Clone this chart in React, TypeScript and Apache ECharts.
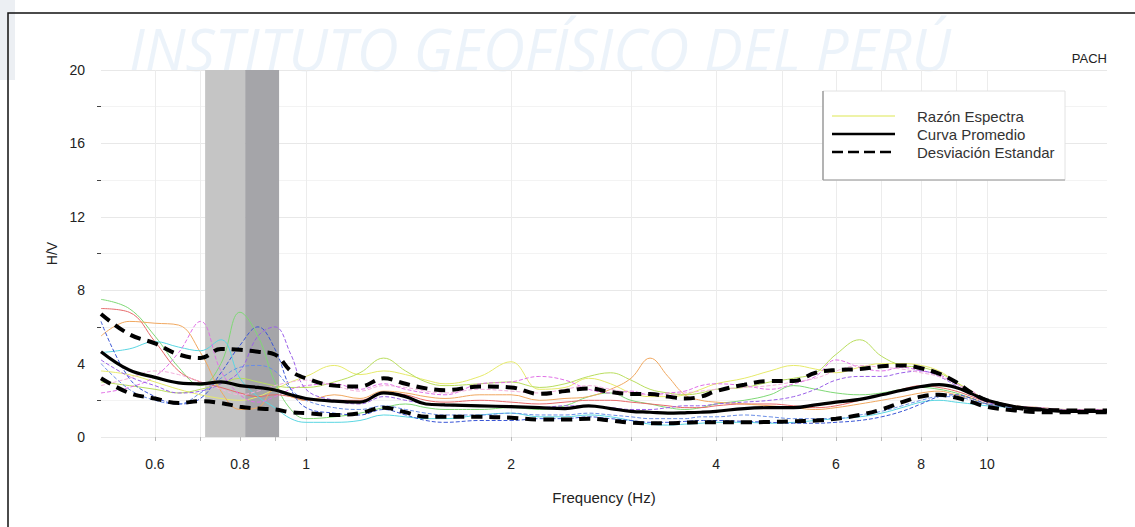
import React, { useEffect, useRef } from "react";
import * as echarts from "echarts";

const FREQ = [0.5, 0.55, 0.6, 0.65, 0.7, 0.75, 0.8, 0.85, 0.9, 0.95, 1.0, 1.1, 1.2, 1.3, 1.4, 1.5, 1.6, 1.8, 2.0, 2.2, 2.4, 2.6, 2.8, 3.0, 3.2, 3.4, 3.6, 3.8, 4.0, 4.4, 4.8, 5.2, 5.6, 6.0, 6.5, 7.0, 7.5, 8.0, 8.5, 9.0, 9.5, 10, 11, 12, 13, 14, 15];

const MEAN = [4.65, 3.65, 3.25, 2.95, 2.9, 3.0, 2.8, 2.7, 2.56, 2.3, 2.1, 1.95, 1.9, 2.4, 2.2, 1.8, 1.75, 1.7, 1.65, 1.6, 1.55, 1.7, 1.55, 1.4, 1.35, 1.3, 1.32, 1.35, 1.4, 1.55, 1.6, 1.6, 1.75, 1.9, 2.05, 2.3, 2.55, 2.75, 2.85, 2.7, 2.35, 2.0, 1.65, 1.5, 1.4, 1.4, 1.4];
const UPPER = [6.7, 5.6, 5.1, 4.5, 4.3, 4.8, 4.75, 4.65, 4.5, 3.6, 3.2, 2.8, 2.75, 3.2, 2.9, 2.65, 2.55, 2.75, 2.7, 2.35, 2.5, 2.65, 2.45, 2.35, 2.35, 2.2, 2.1, 2.2, 2.5, 2.85, 3.05, 3.05, 3.5, 3.65, 3.7, 3.85, 3.9, 3.75, 3.45, 3.0, 2.4, 2.0, 1.6, 1.5, 1.45, 1.45, 1.45];
const LOWER = [3.2, 2.4, 2.1, 1.85, 1.95, 1.85, 1.65, 1.55, 1.5, 1.35, 1.3, 1.2, 1.3, 1.6, 1.35, 1.1, 1.1, 1.1, 1.05, 0.95, 0.95, 1.0, 0.9, 0.78, 0.75, 0.75, 0.78, 0.8, 0.8, 0.8, 0.82, 0.85, 0.9, 1.0, 1.2, 1.5, 1.9, 2.2, 2.3, 2.15, 1.9, 1.65, 1.45, 1.35, 1.35, 1.35, 1.35];

const H_YELLOW = [3.6, 3.4, 3.0, 2.6, 2.3, 2.1, 2.0, 2.2, 2.6, 3.0, 3.3, 3.9, 3.4, 3.6, 3.4, 3.1, 2.9, 3.3, 4.1, 2.6, 2.7, 3.2, 2.9, 2.4, 2.2, 2.2, 2.3, 2.6, 2.9, 3.2, 3.6, 3.9, 3.7, 3.5, 3.8, 4.0, 4.0, 3.9, 3.6, 3.0, 2.5, 2.0, 1.7, 1.6, 1.5, 1.5, 1.5];
const H_LIME = [3.0, 2.8, 2.6, 2.4, 2.6, 2.9, 3.2, 3.0, 2.8, 2.7, 2.7, 3.0, 3.5, 4.3, 3.6, 3.0, 2.8, 2.9, 3.0, 2.7, 2.9, 3.3, 3.5, 3.1, 2.6, 2.4, 2.3, 2.4, 2.6, 2.7, 3.0, 3.2, 3.5, 4.5, 5.3, 4.4, 3.9, 3.8, 3.5, 3.0, 2.4, 2.0, 1.7, 1.6, 1.5, 1.5, 1.5];
const H_GREEN = [7.5, 7.0, 5.5, 3.8, 2.8, 4.0, 6.8, 5.5, 3.0, 1.5, 1.0, 1.1, 1.3, 1.6, 1.8, 1.6, 1.5, 1.5, 1.6, 1.5, 1.7, 2.2, 2.4, 2.0, 1.8, 1.6, 1.5, 1.6, 1.8, 2.0, 2.3, 2.8, 2.6, 2.4, 2.3, 2.4, 2.6, 2.7, 2.6, 2.4, 2.1, 1.8, 1.6, 1.5, 1.45, 1.45, 1.45];
const H_RED = [7.0, 6.8, 5.2, 3.6, 3.0, 2.7, 2.4, 2.2, 2.3, 2.2, 2.0, 2.0, 2.0, 2.4, 2.3, 2.0, 1.9, 2.0, 1.9, 1.8, 1.9, 2.0, 2.0, 1.9, 1.8, 1.7, 1.6, 1.6, 1.7, 1.8, 1.8, 1.7, 1.6, 1.7, 2.0, 2.3, 2.6, 2.8, 2.7, 2.5, 2.2, 1.9, 1.6, 1.5, 1.45, 1.45, 1.45];
const H_ORANGE = [5.5, 6.3, 6.2, 6.1, 4.6, 2.5, 1.5, 1.6, 2.6, 2.2, 2.0, 2.3, 2.1, 2.5, 2.4, 2.2, 2.1, 2.3, 2.3, 2.0, 2.1, 2.2, 2.6, 3.2, 4.3, 3.3, 2.3, 2.0, 1.9, 1.8, 1.7, 1.6, 1.5, 1.6, 1.8, 2.0, 2.2, 2.4, 2.5, 2.3, 2.1, 1.8, 1.6, 1.5, 1.45, 1.45, 1.45];
const H_MAGENTA = [2.4, 2.7, 3.3, 4.6, 6.3, 3.6, 2.3, 1.9, 2.2, 2.6, 2.8, 2.9, 2.6, 2.9, 2.6, 2.4, 2.3, 2.9, 3.0, 3.3, 3.1, 2.6, 2.4, 2.5, 2.3, 2.4, 2.5, 2.8, 2.9, 2.8, 2.6, 2.9, 3.3, 4.2, 3.8, 3.6, 3.8, 3.6, 3.4, 2.9, 2.5, 2.0, 1.7, 1.6, 1.5, 1.5, 1.5];
const H_CYAN = [4.6, 4.8, 5.2, 4.9, 4.7, 5.3, 3.2, 2.2, 1.6, 1.0, 0.8, 0.8, 0.9, 1.2, 1.1, 1.0, 1.0, 1.2, 1.3, 1.1, 1.1, 1.2, 1.1, 0.9, 0.7, 0.65, 0.7, 0.75, 0.8, 0.8, 0.75, 0.8, 0.9, 1.0, 1.1, 1.3, 1.6, 1.9, 2.0, 1.9, 1.8, 1.7, 1.6, 1.5, 1.45, 1.4, 1.4];
const H_BLUE = [6.3, 3.2, 2.2, 1.8, 2.1, 3.5, 5.0, 6.0, 4.8, 2.6, 1.6, 1.3, 1.2, 1.5, 1.2, 0.9, 0.8, 0.9, 0.9, 1.0, 1.0, 1.1, 1.0, 0.9, 0.8, 0.8, 0.85, 0.9, 0.9, 0.85, 0.8, 0.75, 0.75, 0.8, 0.9, 1.1, 1.4, 1.8, 2.2, 2.3, 2.1, 1.8, 1.6, 1.5, 1.45, 1.4, 1.4];
const H_PURPLE = [4.2, 3.3, 2.8, 2.4, 2.5, 2.9, 3.6, 5.5, 6.0, 4.5, 2.6, 2.0, 1.8, 2.2, 2.0, 1.8, 1.7, 1.7, 1.6, 1.6, 1.7, 1.7, 1.6, 1.5, 1.5, 1.6, 1.7, 1.7, 1.8, 1.9, 2.0, 2.2, 2.6, 3.1, 3.3, 3.3, 3.5, 3.6, 3.3, 2.8, 2.3, 1.9, 1.6, 1.5, 1.45, 1.45, 1.45];
const H_SKY = [4.0, 2.6, 2.0, 1.8, 2.4, 3.2, 3.8, 3.9, 3.6, 2.6, 2.0, 1.6, 1.5, 1.7, 1.5, 1.3, 1.2, 1.2, 1.3, 1.2, 1.2, 1.3, 1.2, 1.1, 1.0, 1.0, 1.0, 1.1, 1.1, 1.2, 1.1, 1.0, 1.0, 1.0, 1.2, 1.4, 1.7, 2.0, 2.2, 2.2, 2.0, 1.8, 1.6, 1.5, 1.45, 1.4, 1.4];
const H_PINK = [2.8, 3.2, 3.6, 3.4, 3.0, 2.6, 2.3, 2.5, 2.8, 3.0, 3.1, 2.8, 2.5, 2.8, 2.7, 2.5, 2.4, 2.6, 2.5, 2.4, 2.6, 2.8, 2.6, 2.4, 2.3, 2.3, 2.4, 2.5, 2.6, 2.7, 2.8, 3.0, 3.2, 3.6, 3.9, 3.8, 3.7, 3.5, 3.3, 2.9, 2.4, 2.0, 1.7, 1.6, 1.5, 1.5, 1.5];

const BAND_LIGHT = [0.711, 0.814];
const BAND_DARK = [0.814, 0.913];
const Y_MAX = 20;
const X_TICKS = [0.6, 0.7, 0.8, 0.9, 1, 2, 3, 4, 5, 6, 7, 8, 9, 10];
const X_LABELS = [0.6, 0.8, 1, 2, 4, 6, 8, 10];

const INDIVIDUAL = [
  { v: H_YELLOW, c: "#e6ea6a", t: "solid" },
  { v: H_LIME, c: "#b9dd5e", t: "solid" },
  { v: H_GREEN, c: "#7fd875", t: "solid" },
  { v: H_RED, c: "#e66a6a", t: "solid" },
  { v: H_ORANGE, c: "#f0a860", t: "solid" },
  { v: H_CYAN, c: "#5ad6e2", t: "solid" },
  { v: H_MAGENTA, c: "#e070e6", t: [4, 2] },
  { v: H_BLUE, c: "#3a56d6", t: [4, 2] },
  { v: H_PURPLE, c: "#9a60e8", t: [4, 2] },
  { v: H_SKY, c: "#6a8ee6", t: [4, 2] },
  { v: H_PINK, c: "#f2b0dc", t: [4, 2] },
];

const pairs = (vals: number[]) => FREQ.map((f, i) => [f, vals[i]]);
const FONT = "'Liberation Sans', Arial, sans-serif";

export default function App() {
  const ref = useRef<HTMLDivElement>(null);
  useEffect(() => {
    if (!ref.current) return;
    const chart = echarts.init(ref.current, null, { renderer: "svg" });
    const series: any[] = [];
    series.push({
      name: "Banda",
      type: "line",
      data: [],
      z: 1,
      silent: true,
      markArea: {
        silent: true,
        data: [
          [{ xAxis: BAND_LIGHT[0], yAxis: 0, itemStyle: { color: "#c5c5c5" } }, { xAxis: BAND_LIGHT[1], yAxis: Y_MAX }],
          [{ xAxis: BAND_DARK[0], yAxis: 0, itemStyle: { color: "#a5a5a9" } }, { xAxis: BAND_DARK[1], yAxis: Y_MAX }],
        ],
      },
    });
    INDIVIDUAL.forEach((s, i) => {
      series.push({
        name: "Razón Espectra " + (i + 1),
        type: "line",
        data: pairs(s.v),
        smooth: 0.4,
        showSymbol: false,
        z: 3,
        lineStyle: { color: s.c, width: 1, type: s.t },
      });
    });
    series.push({
      name: "Curva Promedio",
      type: "line",
      data: pairs(MEAN),
      smooth: 0.4,
      showSymbol: false,
      z: 5,
      lineStyle: { color: "#000", width: 3.2 },
    });
    [UPPER, LOWER].forEach((arr, i) => {
      series.push({
        name: i === 0 ? "Desviación Estandar +" : "Desviación Estandar -",
        type: "line",
        data: pairs(arr),
        smooth: 0.4,
        showSymbol: false,
        z: 5,
        lineStyle: { color: "#000", width: 4, type: [11, 7] },
      });
    });

    chart.setOption({
      animation: false,
      backgroundColor: "#ffffff",
      grid: { left: 101, right: 28, top: 70, bottom: 90 },
      xAxis: {
        type: "log",
        logBase: 10,
        min: 0.5,
        max: 15,
        name: "Frequency (Hz)",
        nameLocation: "middle",
        nameGap: 53,
        nameTextStyle: { fontFamily: FONT, fontSize: 15, color: "#222" },
        axisLine: { show: false },
        axisTick: { show: true, customValues: X_TICKS, length: 4, lineStyle: { color: "#bbb" } },
        axisLabel: {
          customValues: X_LABELS,
          margin: 20,
          fontFamily: FONT,
          fontSize: 14,
          color: "#222",
          formatter: (v: number) => String(v),
        },
        splitLine: { show: true, lineStyle: { color: "#ececec", width: 1 } },
      },
      yAxis: {
        type: "value",
        min: 0,
        max: Y_MAX,
        interval: 4,
        name: "H/V",
        nameLocation: "middle",
        nameGap: 30,
        nameRotate: 90,
        nameTextStyle: { fontFamily: FONT, fontSize: 14, color: "#222" },
        axisLine: { show: false },
        axisTick: { show: false },
        minorTick: { show: true, splitNumber: 2, length: 4, lineStyle: { color: "#444" } },
        minorSplitLine: { show: true, lineStyle: { color: "#f3f3f3" } },
        axisLabel: { margin: 16, fontFamily: FONT, fontSize: 14, color: "#222" },
        splitLine: { show: true, lineStyle: { color: "#e8e8e8" } },
      },
      series,
      graphic: [
        { type: "rect", z: -10, shape: { x: 0, y: 0, width: 15, height: 80 }, style: { fill: "#eceff3" } },
        {
          type: "text",
          z: 0,
          x: 540,
          y: 48,
          style: {
            text: "INSTITUTO GEOFÍSICO DEL PERÚ",
            fontFamily: "'Open Sans', sans-serif",
            fontStyle: "italic",
            fontSize: 58,
            fill: "rgba(200,222,240,0.35)",
            textAlign: "center",
            textVerticalAlign: "middle",
          },
        },
        { type: "rect", z: 10, shape: { x: 8, y: 13, width: 1140, height: 530 }, style: { fill: "none", stroke: "#111", lineWidth: 1.5 } },
        {
          type: "text",
          x: 1107,
          y: 58,
          style: { text: "PACH", fontFamily: FONT, fontSize: 13, fill: "#222", textAlign: "right", textVerticalAlign: "middle" },
        },
        { type: "rect", z: 20, shape: { x: 823, y: 91, width: 242, height: 89 }, style: { fill: "#fff", stroke: "#e2e2e2", lineWidth: 1 } },
        { type: "line", z: 21, shape: { x1: 823, y1: 91, x2: 823, y2: 180 }, style: { stroke: "#8a8a8a", lineWidth: 1.2 } },
        { type: "line", z: 21, shape: { x1: 823, y1: 180, x2: 1065, y2: 180 }, style: { stroke: "#9a9a9a", lineWidth: 1.2 } },
        { type: "line", z: 21, shape: { x1: 832, y1: 116, x2: 895, y2: 116 }, style: { stroke: "#eef3a8", lineWidth: 2 } },
        { type: "line", z: 21, shape: { x1: 832, y1: 134, x2: 895, y2: 134 }, style: { stroke: "#000", lineWidth: 2.5 } },
        { type: "line", z: 21, shape: { x1: 832, y1: 152, x2: 895, y2: 152 }, style: { stroke: "#000", lineWidth: 2.5, lineDash: [11, 5] } },
        { type: "text", z: 21, x: 917, y: 116, style: { text: "Razón Espectra", fontFamily: FONT, fontSize: 15, fill: "#333", textVerticalAlign: "middle" } },
        { type: "text", z: 21, x: 917, y: 134, style: { text: "Curva Promedio", fontFamily: FONT, fontSize: 15, fill: "#333", textVerticalAlign: "middle" } },
        { type: "text", z: 21, x: 917, y: 152, style: { text: "Desviación Estandar", fontFamily: FONT, fontSize: 15, fill: "#333", textVerticalAlign: "middle" } },
      ],
    });
    return () => chart.dispose();
  }, []);
  return <div ref={ref} style={{ position: "absolute", left: 0, top: 0, width: 1135, height: 527 }} />;
}
